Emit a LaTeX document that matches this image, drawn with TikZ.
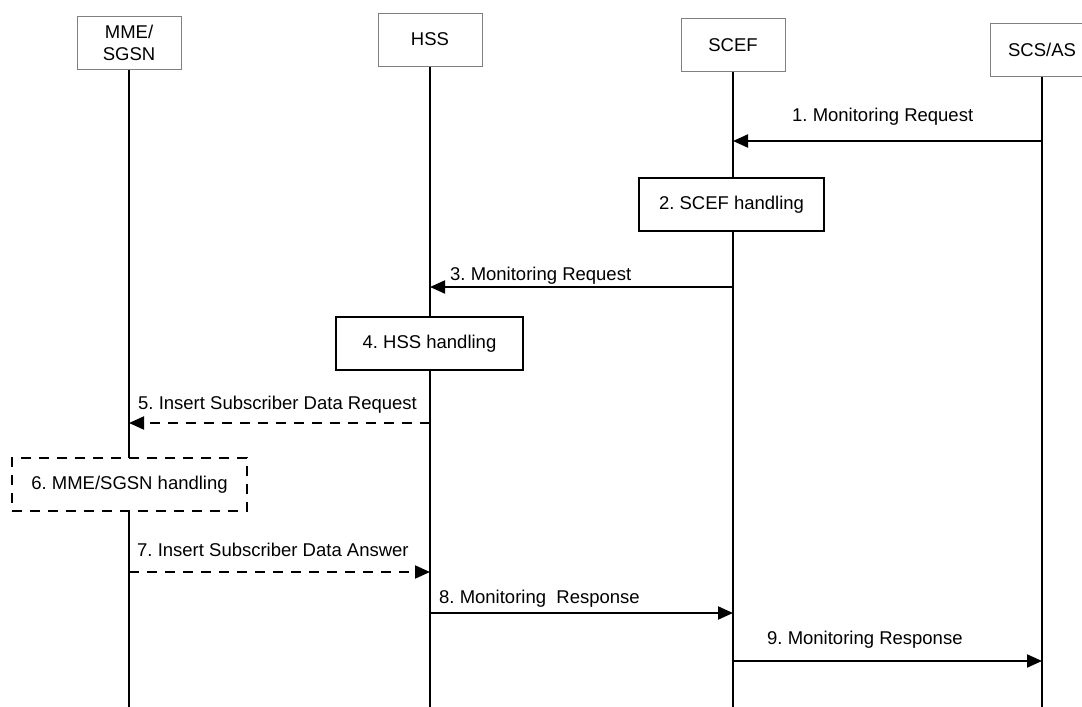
\documentclass[tikz,border=0pt]{standalone}
\usepackage{fontspec}
\setmainfont{Liberation Sans}
\usetikzlibrary{arrows.meta}
\frenchspacing

\begin{document}
\begin{tikzpicture}[x=1pt,y=-1pt,
  font=\fontsize{18.5}{22}\selectfont,
  entity/.style={draw=gray,line width=1pt,fill=white,minimum width=104pt,minimum height=53pt,align=center,inner sep=0pt},
  handling/.style={draw,line width=2pt,fill=white,minimum height=53pt,inner sep=0pt,text height=13.5pt,text depth=3.5pt},
  life/.style={line width=1.5pt},
  msg/.style={line width=2pt,-{Triangle[length=15pt,width=13pt]}},
  dmsg/.style={msg,dash pattern=on 10pt off 8pt},
  lbl/.style={anchor=base west,inner sep=0pt}]

\useasboundingbox (0,0) rectangle (1082,707);
\coordinate (bottom) at (0,707);

% Entities
\node[entity] (mme) at (129,42.5) {MME/\\SGSN};
\node[entity] (hss) at (430,39.5) {HSS};
\node[entity] (scef) at (733,45) {SCEF};
\node[entity] (scs) at (1042,49.5) {SCS/AS};

% Lifelines
\foreach \e in {mme,hss,scef,scs}
  \draw[life] (\e.south) -- (\e.south |- bottom);

% Message rows
\coordinate (m1) at (0,141);
\coordinate (m3) at (0,287);
\coordinate (m5) at (0,423);
\coordinate (m7) at (0,572);
\coordinate (m8) at (0,613);
\coordinate (m9) at (0,661);

% 1. Monitoring Request
\draw[msg] (scs |- m1) -- (scef |- m1);
\node[lbl] (l1) at (792,121) {1. Monitoring Request};
% 2. SCEF handling
\node[handling,minimum width=185pt] (scefh) at (731.5,204.5) {2. SCEF handling};
% 3. Monitoring Request
\draw[msg] (scef |- m3) -- (hss |- m3);
\node[lbl] (l3) at (450,280) {3. Monitoring Request};
% 4. HSS handling
\node[handling,minimum width=187pt] (hssh) at (429.5,343.5) {4. HSS handling};
% 5. Insert Subscriber Data Request
\draw[dmsg] (hss |- m5) -- (mme |- m5);
\node[lbl] (l5) at (138,409) {5. Insert Subscriber Data Request};
% 6. MME/SGSN handling
\node[handling,dash pattern=on 10pt off 8pt,minimum width=235pt] (mmeh) at (129.5,484.5) {6. MME/SGSN handling};
% 7. Insert Subscriber Data Answer
\draw[dmsg] (mme |- m7) -- (hss |- m7);
\node[lbl] (l7) at (137,556) {7. Insert Subscriber Data Answer};
% 8. Monitoring Response
\draw[msg] (hss |- m8) -- (scef |- m8);
\node[lbl] (l8) at (439,603) {8. Monitoring\ \ Response};
% 9. Monitoring Response
\draw[msg] (scef |- m9) -- (scs |- m9);
\node[lbl] (l9) at (767,644) {9. Monitoring Response};

\end{tikzpicture}
\end{document}
